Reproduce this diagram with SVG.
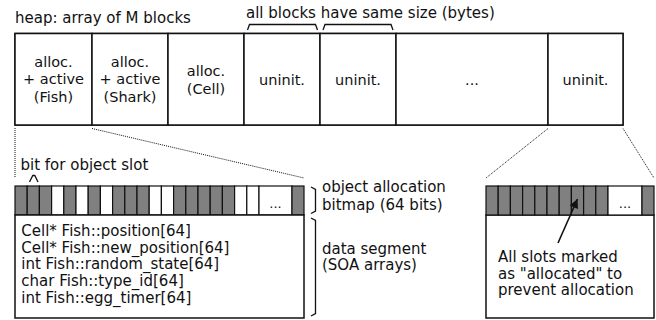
<svg xmlns="http://www.w3.org/2000/svg" width="656" height="320" viewBox="0 0 656 320">
<defs>
<style>
text{font-family:"DejaVu Sans","Liberation Sans",sans-serif;font-size:15px;fill:#111}
.c{text-anchor:middle;font-size:14.5px}
.box{fill:#fff;stroke:#111;stroke-width:1.5}
.d{fill:#808080;stroke:#111;stroke-width:1.2}
.w{fill:#fff;stroke:#111;stroke-width:1.2}
.dot{fill:none;stroke:#111;stroke-width:1;stroke-dasharray:1,1}
.br{fill:none;stroke:#111;stroke-width:1.3}
.dots{text-anchor:middle;font-size:13px}
</style>
<marker id="ah" viewBox="0 0 10 10" refX="10" refY="5" markerUnits="userSpaceOnUse" markerWidth="14" markerHeight="9" orient="auto">
<path d="M0,0 L10,5 L0,10 z" fill="#111"/>
</marker>
</defs>
<rect width="656" height="320" fill="#fff"/>

<text x="15" y="22.5">heap: array of M blocks</text>
<text x="246" y="18">all blocks have same size (bytes)</text>

<g id="heap">
<rect class="box" x="15" y="33.5" width="608" height="91.5"/>
<g id="cell1"><rect class="box" x="15" y="33.5" width="77" height="91.5"/>
<text class="c" x="53.5" y="66.5">alloc.</text><text class="c" x="53.5" y="84.3">+ active</text><text class="c" x="53.5" y="102">(Fish)</text></g>
<g id="cell2"><rect class="box" x="92" y="33.5" width="76" height="91.5"/>
<text class="c" x="130" y="66.5">alloc.</text><text class="c" x="130" y="84.3">+ active</text><text class="c" x="130" y="102">(Shark)</text></g>
<g id="cell3"><rect class="box" x="168" y="33.5" width="76" height="91.5"/>
<text class="c" x="206" y="76">alloc.</text><text class="c" x="206" y="94">(Cell)</text></g>
<g id="cell4"><rect class="box" x="244" y="33.5" width="76" height="91.5"/>
<text class="c" x="282" y="85">uninit.</text></g>
<g id="cell5"><rect class="box" x="320" y="33.5" width="76" height="91.5"/>
<text class="c" x="358" y="85">uninit.</text></g>
<g id="cell6"><rect class="box" x="396" y="33.5" width="152" height="91.5"/>
<text class="c" x="472" y="85">...</text></g>
<g id="cell7"><rect class="box" x="548" y="33.5" width="75" height="91.5"/>
<text class="c" x="585.5" y="85">uninit.</text></g>
</g>

<text x="20.5" y="170">bit for object slot</text>

<g id="bitmap">
<rect class="d" x="15" y="186" width="12.2" height="29"/>
<rect class="d" x="27.2" y="186" width="12.2" height="29"/>
<rect class="d" x="39.4" y="186" width="12.2" height="29"/>
<rect class="w" x="51.6" y="186" width="12.2" height="29"/>
<rect class="d" x="63.8" y="186" width="12.2" height="29"/>
<rect class="w" x="76" y="186" width="12.2" height="29"/>
<rect class="d" x="88.2" y="186" width="12.2" height="29"/>
<rect class="w" x="100.4" y="186" width="12.2" height="29"/>
<rect class="d" x="112.6" y="186" width="12.2" height="29"/>
<rect class="d" x="124.8" y="186" width="12.2" height="29"/>
<rect class="d" x="137" y="186" width="12.2" height="29"/>
<rect class="w" x="149.2" y="186" width="12.2" height="29"/>
<rect class="w" x="161.4" y="186" width="12.2" height="29"/>
<rect class="d" x="173.6" y="186" width="12.2" height="29"/>
<rect class="d" x="185.8" y="186" width="12.2" height="29"/>
<rect class="d" x="198" y="186" width="12.2" height="29"/>
<rect class="d" x="210.2" y="186" width="12.2" height="29"/>
<rect class="d" x="222.4" y="186" width="12.2" height="29"/>
<rect class="w" x="234.6" y="186" width="12.2" height="29"/>
<rect class="w" x="246.8" y="186" width="12.2" height="29"/>
<rect class="w" x="259" y="186" width="33" height="29"/>
<rect class="d" x="292" y="186" width="12" height="29"/>
<text class="dots" x="275.5" y="208">...</text>
</g>

<g id="data">
<rect class="box" x="15" y="215" width="289" height="103"/>
<text x="21.3" y="236">Cell* Fish::position[64]</text>
<text x="21.3" y="252.7">Cell* Fish::new_position[64]</text>
<text x="21.3" y="269.4">int Fish::random_state[64]</text>
<text x="21.3" y="286">char Fish::type_id[64]</text>
<text x="21.3" y="302.7">int Fish::egg_timer[64]</text>
</g>

<text x="322" y="192">object allocation</text>
<text x="322" y="209.5">bitmap (64 bits)</text>
<text x="322" y="253.5">data segment</text>
<text x="322" y="270">(SOA arrays)</text>

<g id="lastblock">
<rect class="box" x="486" y="215" width="168" height="103"/>
<rect class="d" x="486" y="186" width="12.2" height="29"/>
<rect class="d" x="498.2" y="186" width="12.2" height="29"/>
<rect class="d" x="510.4" y="186" width="12.2" height="29"/>
<rect class="d" x="522.6" y="186" width="12.2" height="29"/>
<rect class="d" x="534.8" y="186" width="12.2" height="29"/>
<rect class="d" x="547" y="186" width="12.2" height="29"/>
<rect class="d" x="559.2" y="186" width="12.2" height="29"/>
<rect class="d" x="571.4" y="186" width="12.2" height="29"/>
<rect class="d" x="583.6" y="186" width="12.2" height="29"/>
<rect class="d" x="595.8" y="186" width="12.2" height="29"/>
<rect class="w" x="608" y="186" width="34" height="29"/>
<rect class="d" x="642" y="186" width="12" height="29"/>
<text class="dots" x="625" y="208">...</text>
<text x="498" y="262">All slots marked</text>
<text x="498" y="278.7">as "allocated" to</text>
<text x="498" y="295.4">prevent allocation</text>
</g>

<g id="connectors">
<path class="br" d="M247.5,30 L249.5,24.5 L315.5,24.5 L317.5,30"/>
<path class="br" d="M323,30 L325,24.5 L391,24.5 L393,30"/>
<path class="dot" d="M15,128 L15,177"/>
<path class="dot" d="M92,128.5 L304,178"/>
<path class="dot" d="M548,128.5 L486,178"/>
<path class="dot" d="M623,128.5 L654,178"/>
<path class="br" d="M29.5,182 L32.8,175.5 L34.8,175.5 L38,182"/>
<path class="br" d="M311,187 L315.5,189.5 L315.5,211 L311,213.5"/>
<path class="br" d="M311,218 L315.5,220.5 L315.5,313.5 L311,316"/>
<path d="M558,243 L577.5,199" fill="none" stroke="#111" stroke-width="1.6" marker-end="url(#ah)"/>
</g>
</svg>
